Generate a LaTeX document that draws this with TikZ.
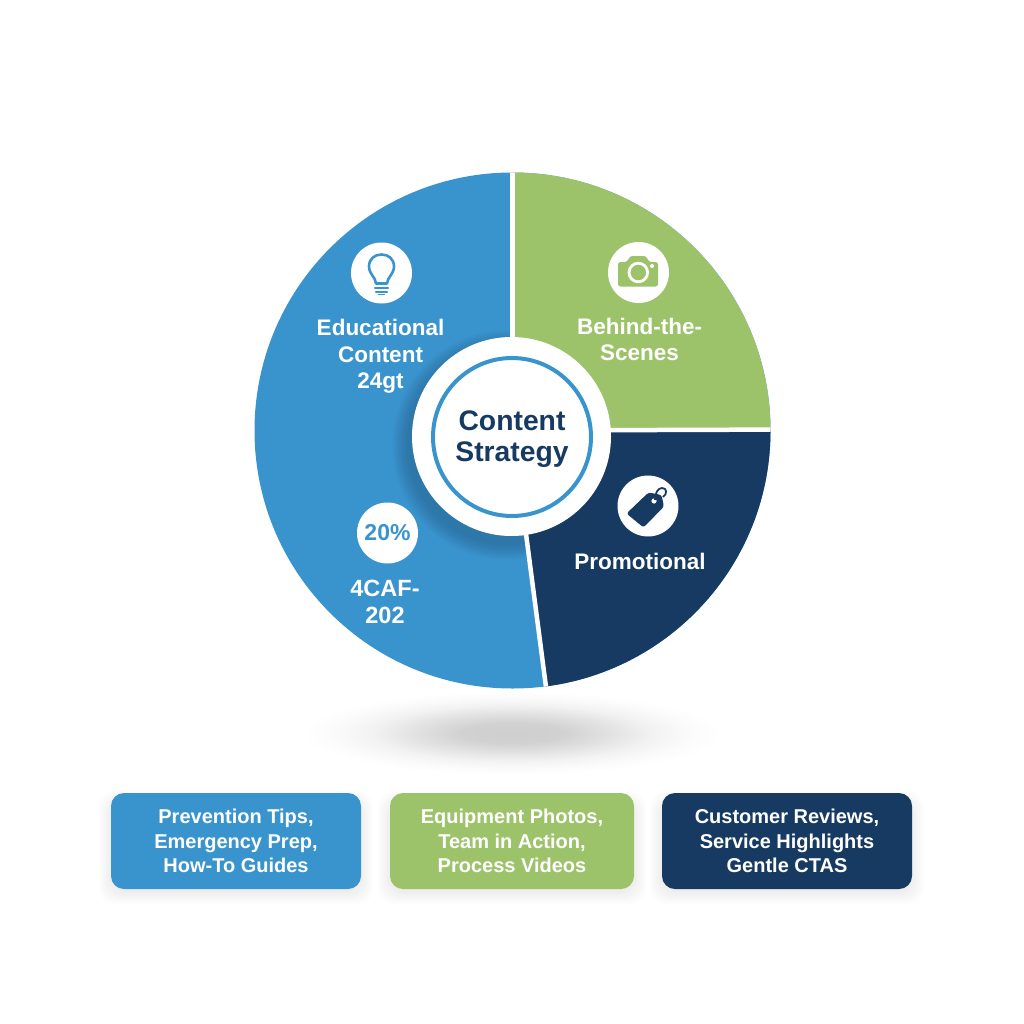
\documentclass[tikz,border=0pt]{standalone}
\usepackage{fontspec}
\setmainfont{Liberation Sans}
\definecolor{cblue}{HTML}{3994CE}
\definecolor{cgreen}{HTML}{9DC36A}
\definecolor{cnavy}{HTML}{173A63}
\pgfdeclareradialshading{groundsh}{\pgfpointorigin}{color(0bp)=(black!19);color(5bp)=(black!18);color(10bp)=(black!11);color(14bp)=(black!5);color(18bp)=(black!1.5);color(21bp)=(white);color(50bp)=(white)}
\tikzset{
  lbl/.style={text=white,font=\bfseries\fontsize{22.5}{26.5}\selectfont,align=center,inner sep=0pt},
  cardtxt/.style={text=white,font=\bfseries\fontsize{20}{24.6}\selectfont,align=center,inner sep=0pt},
  hubtxt/.style={text=cnavy,font=\bfseries\fontsize{28.3}{31}\selectfont,align=center,inner sep=0pt},
  badge/.style={circle,fill=white,minimum size=61pt,inner sep=0pt},
  card/.style={rounded corners=13pt,inner sep=0pt},
  divider/.style={draw=white,line width=4.5pt}
}
\begin{document}
\begin{tikzpicture}[x=1pt,y=-1pt]
\useasboundingbox (0,0) rectangle (1024,1024);
\fill[white] (0,0) rectangle (1024,1024);
% ground shadow
\shade[shading=groundsh] (512,733) ellipse [x radius=250pt,y radius=50pt];
% pie
\coordinate (c) at (512.5,430.5);
\coordinate (topEnd) at (512.5,150);
\coordinate (rightEnd) at (800,429.5);
\coordinate (botEnd) at (549,710);
\coordinate (ne) at (800,150);
\coordinate (se) at (800,710);
\fill[cblue] (c) circle[radius=258pt];
\begin{scope}
\clip (c) circle[radius=258pt];
\foreach \r in {100,101.5,...,116}{
  \fill[black,opacity=0.017] (507,445) circle[radius=\r pt];
}
\fill[cgreen] (c) -- (topEnd) -- (ne) -- (rightEnd) -- cycle;
\fill[cnavy] (c) -- (rightEnd) -- (se) -- (botEnd) -- cycle;
\draw[divider] (c) -- (topEnd);
\draw[divider] (c) -- (rightEnd);
\draw[divider] (c) -- (botEnd);
\end{scope}
% hub
\node[circle,fill=white,minimum size=199pt,inner sep=0pt] (hub) at (511.5,436.5) {};
\node[circle,draw=cblue,line width=4pt,minimum size=158pt,inner sep=0pt] (ring) at (512,437) {};
\node[hubtxt] (hubl) at (512,439) {Content\\Strategy};
% badges
\node[badge] (b1) at (381.5,273) {};
\node[badge] (b2) at (638.5,272.5) {};
\node[badge] (b3) at (648,506) {};
\node[badge,text=cblue,font=\bfseries\fontsize{23}{26}\selectfont] (b4) at (387.5,533) {20\%};
% bulb
\draw[cblue,line width=2.6pt,line join=round]
  (376,283.5) .. controls (375.5,277) and (369,274) .. (369,266.5)
  .. controls (369,259) and (374.5,254.5) .. (381.5,254.5)
  .. controls (388.5,254.5) and (394,259) .. (394,266.5)
  .. controls (394,274) and (387.5,277) .. (387,283.5) -- cycle;
\draw[cblue,line width=2.4pt,line cap=round] (375,288) -- (388,288);
\draw[cblue,line width=2.4pt,line cap=round] (376,292) -- (387,292);
\fill[cblue] (378,294) rectangle (385,294.8);
% camera
\fill[cgreen,rounded corners=2.5pt] (618,262) -- (627,262) -- (630,256) -- (646,256) -- (649,262) -- (658,262) -- (658,286.5) -- (618,286.5) -- cycle;
\draw[white,line width=2.8pt,fill=cgreen] (638.3,272.5) circle[radius=9.3pt];
\fill[white] (652,266) circle[radius=2pt];
% tag
\fill[cnavy,rounded corners=2.5pt] (626.5,513.5) -- (643.5,527.5) -- (664,506.5) -- (661.5,495) -- (648.5,492.5) -- cycle;
\fill[white] (654,501) circle[radius=2.6pt];
\draw[cnavy,line width=1.8pt] (655,500) .. controls (655,493) and (658,488) .. (662,488) .. controls (667,488) and (667.5,494) .. (663,497);
% labels
\node[lbl] (edu) at (380.5,356.5) {Educational\\Content\\24gt};
\node[lbl] (beh) at (639.5,339.5) {Behind-the-\\Scenes};
\node[lbl] (pro) at (640,561) {Promotional};
\node[lbl,font=\bfseries\fontsize{23.5}{27}\selectfont] (caf) at (385,601.5) {4CAF-\\202};
% cards
\foreach \xa/\xb in {111/361,390/634,662/912}{
  \foreach \g in {0,1.5,...,13}{
    \fill[black,opacity=0.009,rounded corners=16pt] (\xa-\g,793+10-\g) rectangle (\xb+\g,889+3+\g);
  }
}
\node[card,fill=cblue,minimum width=250pt,minimum height=96pt] (c1) at (236,841) {};
\node[card,fill=cgreen,minimum width=244pt,minimum height=96pt] (c2) at (512,841) {};
\node[card,fill=cnavy,minimum width=250pt,minimum height=96pt] (c3) at (787,841) {};
\node[cardtxt] (t1) at (236,841) {Prevention Tips,\\Emergency Prep,\\How-To Guides};
\node[cardtxt] (t2) at (512,841) {Equipment Photos,\\Team in Action,\\Process Videos};
\node[cardtxt] (t3) at (787,841) {Customer Reviews,\\Service Highlights\\Gentle CTAS};
\end{tikzpicture}
\end{document}
